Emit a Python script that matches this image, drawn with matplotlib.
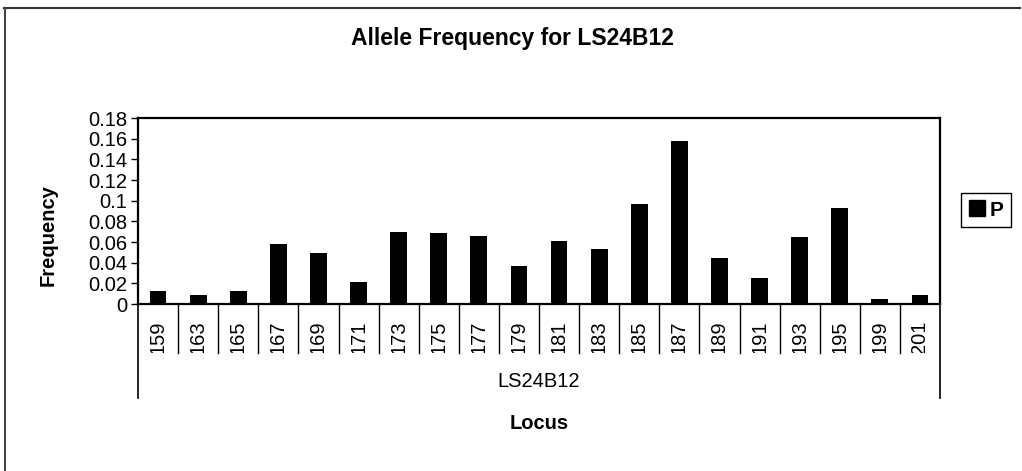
import matplotlib
matplotlib.use("Agg")
import matplotlib.pyplot as plt
from matplotlib.patches import Patch
from matplotlib.lines import Line2D
from matplotlib.transforms import Bbox, TransformedBbox, blended_transform_factory

# data
alleles = ["159", "163", "165", "167", "169", "171", "173", "175", "177", "179",
           "181", "183", "185", "187", "189", "191", "193", "195", "199", "201"]
freq_p = [0.013, 0.009, 0.013, 0.058, 0.049, 0.021, 0.070, 0.069, 0.066, 0.037,
          0.061, 0.053, 0.097, 0.158, 0.045, 0.025, 0.065, 0.093, 0.005, 0.009]
y_ticks = [0, 0.02, 0.04, 0.06, 0.08, 0.1, 0.12, 0.14, 0.16, 0.18]
group_label = "LS24B12"
series_name = "P"

plt.rcParams["font.family"] = ["Liberation Sans", "DejaVu Sans"]

W, H = 1022, 471
fig = plt.figure(figsize=(W / 100, H / 100), dpi=100)
fig.patch.set_facecolor("white")

# plot area in pixels: left 138, right 940, top 118, bottom 304
ax = fig.add_axes([138 / W, 1 - 304 / H, 802 / W, 186 / H])

x = range(len(alleles))
ax.bar(x, freq_p, width=0.42, color="black", label=series_name)

ax.set_xlim(-0.5, len(alleles) - 0.5)
ax.set_ylim(0, 0.18)
ax.set_yticks(y_ticks)
ax.set_yticklabels([f"{v:g}" for v in y_ticks], fontsize=14.5)
ax.tick_params(axis="y", direction="out", length=5, width=1, pad=3)
ax.set_xticks([])

for sp in ax.spines.values():
    sp.set_linewidth(1.6)
    sp.set_color("black")

ax.set_ylabel("Frequency", fontsize=14.5, fontweight="bold")
ax.yaxis.set_label_coords(58 / W, 0.5, transform=fig.transFigure)

# category labels below the axis, clipped like the spreadsheet cells
trans = blended_transform_factory(ax.transData, ax.transAxes)
cell_box = TransformedBbox(Bbox([[0, -0.263], [1, 0]]), ax.transAxes)
for i, lab in enumerate(alleles):
    t = ax.text(i, -0.09, lab, transform=trans, rotation=90, ha="center",
                va="top", fontsize=14.5)
    t.set_clip_box(cell_box)
    t.set_clip_on(True)

# divider lines between categories
for i in range(1, len(alleles)):
    ax.add_line(Line2D([i - 0.5, i - 0.5], [0, -0.263], transform=trans,
                       color="black", lw=1, clip_on=False))
for edge in (-0.5, len(alleles) - 0.5):
    ax.add_line(Line2D([edge, edge], [0, -0.505], transform=trans,
                       color="black", lw=1.2, clip_on=False))

ax.text(0.5, -0.414, group_label, transform=ax.transAxes, ha="center",
        va="center", fontsize=14.5)
ax.text(0.5, -0.64, "Locus", transform=ax.transAxes, ha="center",
        va="center", fontsize=14.5, fontweight="bold")

fig.text(512 / W, 1 - 38 / H, "Allele Frequency for LS24B12", ha="center",
         va="center", fontsize=16.5, fontweight="bold")

leg = fig.legend(handles=[Patch(facecolor="black", edgecolor="black", label=series_name)],
                 loc="center", bbox_to_anchor=(986 / W, 1 - 210 / H),
                 bbox_transform=fig.transFigure,
                 prop={"weight": "bold", "size": 15},
                 handlelength=0.8, handleheight=0.8, handletextpad=0.2,
                 borderpad=0.35, fancybox=False, framealpha=1)
leg.get_frame().set_edgecolor("black")
leg.get_frame().set_linewidth(1)

# outer chart border (top and left edges visible in the scan)
fig.add_artist(Line2D([4 / W, 1020 / W], [1 - 8 / H, 1 - 8 / H],
                      transform=fig.transFigure, color="#333333", lw=1.5))
fig.add_artist(Line2D([5 / W, 5 / W], [0, 1 - 8 / H],
                      transform=fig.transFigure, color="#444444", lw=1.5))

fig.savefig("out.png", dpi=100)
